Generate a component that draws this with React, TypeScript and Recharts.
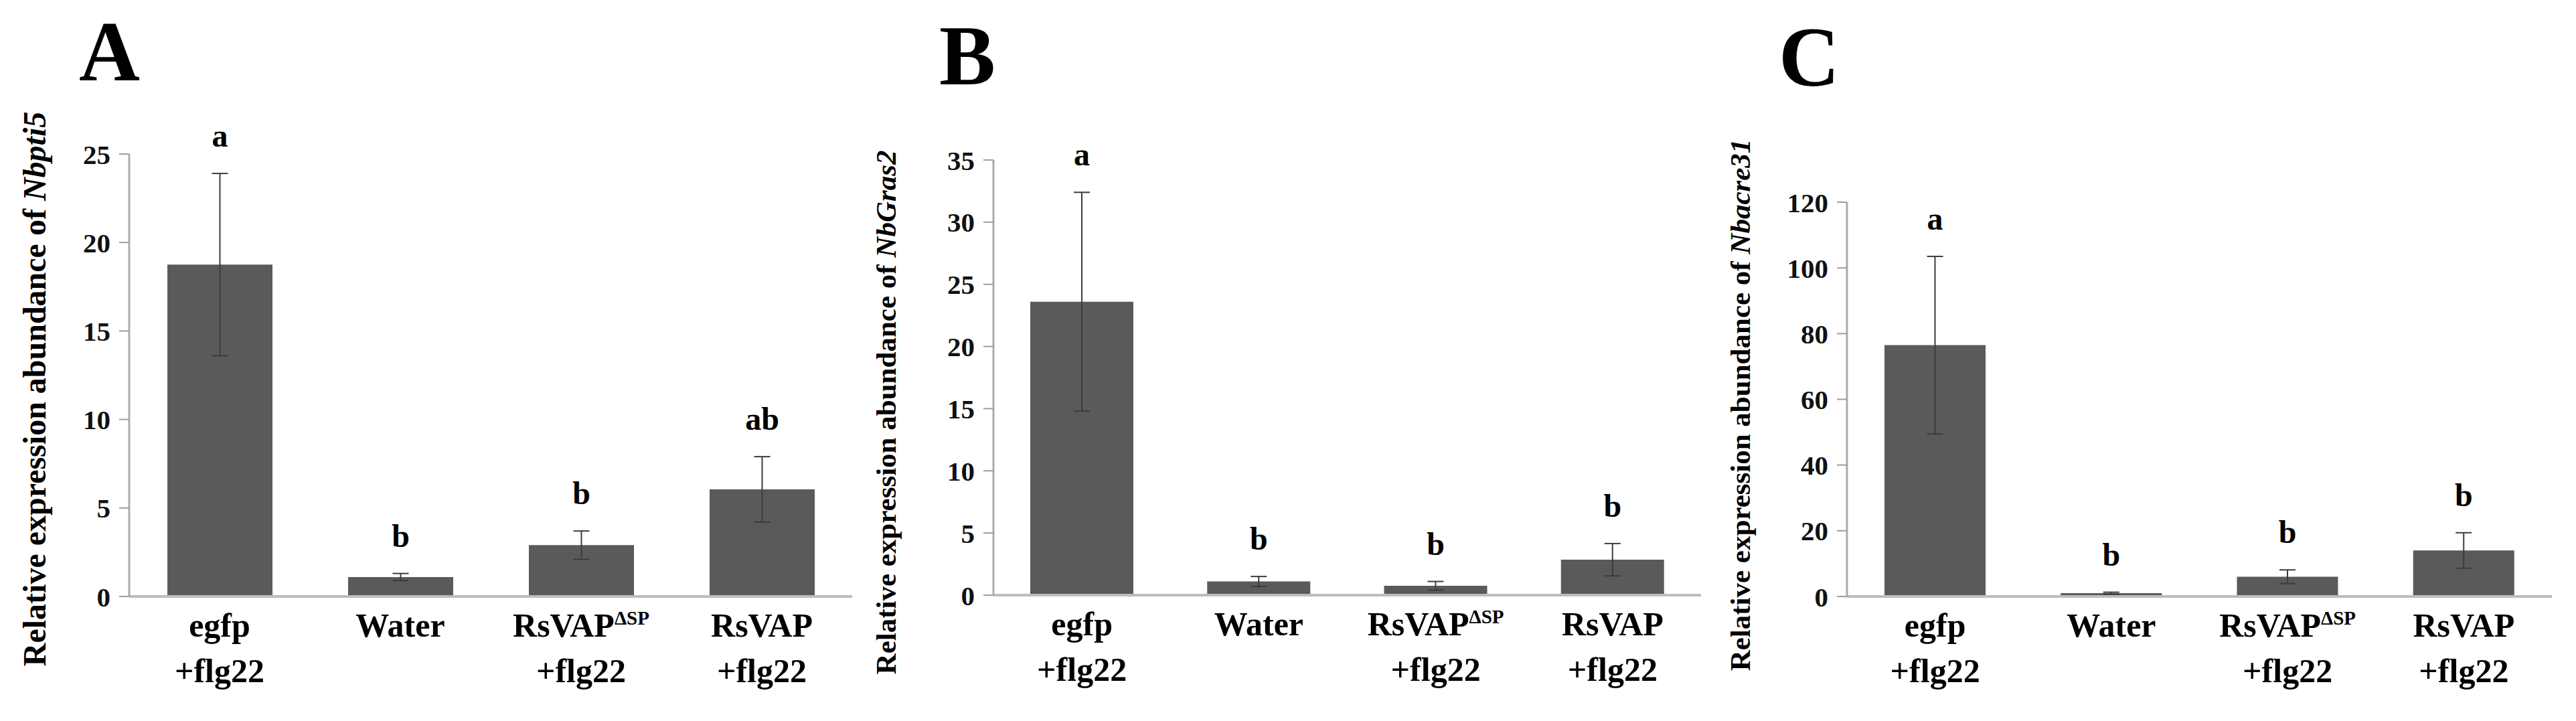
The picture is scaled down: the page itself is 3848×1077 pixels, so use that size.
import React from "react"
import { Bar, BarChart, ErrorBar, LabelList, XAxis, YAxis } from "recharts"

const FONT = "'Liberation Serif', 'Times New Roman', serif"

// treatments shared by all three panels ("+" splits the two label lines)
const treatments = ["egfp+flg22", "Water", "RsVAPΔSP+flg22", "RsVAP+flg22"]

// A: Nbpti5
const pti5Mean = [18.75, 1.1, 2.9, 6.05]
const pti5Sd = [5.15, 0.2, 0.8, 1.85]
const pti5Groups = ["a", "b", "b", "ab"]
const pti5Ticks = [0, 5, 10, 15, 20, 25]

// B: NbGras2
const gras2Mean = [23.6, 1.1, 0.75, 2.85]
const gras2Sd = [8.8, 0.4, 0.35, 1.3]
const gras2Groups = ["a", "b", "b", "b"]
const gras2Ticks = [0, 5, 10, 15, 20, 25, 30, 35]

// C: Nbacre31
const acre31Mean = [76.5, 1.0, 6.0, 14.0]
const acre31Sd = [27, 0.3, 2.1, 5.4]
const acre31Groups = ["a", "b", "b", "b"]
const acre31Ticks = [0, 20, 40, 60, 80, 100, 120]

const buildRows = (mean: number[], sd: number[], groups: string[]) =>
  treatments.map((name, i) => ({ name, mean: mean[i], sd: sd[i], group: groups[i] }))

const panels = [
  {
    letter: "A", gene: "Nbpti5", rows: buildRows(pti5Mean, pti5Sd, pti5Groups), ticks: pti5Ticks,
    left: 0, width: 1300, margin: { top: 230, right: 27, bottom: 36, left: 133 }, barSize: 157,
    letterX: 118, letterY: 120, titleX: 68, titleY: 581, titleSize: 48,
  },
  {
    letter: "B", gene: "NbGras2", rows: buildRows(gras2Mean, gras2Sd, gras2Groups), ticks: gras2Ticks,
    left: 1300, width: 1300, margin: { top: 239, right: 59, bottom: 38, left: 124 }, barSize: 154,
    letterX: 1403, letterY: 126, titleX: 1338, titleY: 616, titleSize: 43,
  },
  {
    letter: "C", gene: "Nbacre31", rows: buildRows(acre31Mean, acre31Sd, acre31Groups), ticks: acre31Ticks,
    left: 2600, width: 1248, margin: { top: 302, right: 36, bottom: 36, left: 99 }, barSize: 151,
    letterX: 2657, letterY: 128, titleX: 2614, titleY: 605, titleSize: 43,
  },
]

function TreatmentTick({ x, y, payload }: any) {
  const [head, tail] = String(payload.value).split("+")
  const hasSup = head.endsWith("ΔSP")
  const base = hasSup ? head.slice(0, -3) : head
  return (
    <g fontFamily={FONT} fontWeight="bold" fontSize={50} fill="#000">
      <text x={x} y={y + 60} textAnchor="middle">
        {base}
        {hasSup && (
          <tspan fontSize={29} dy={-18}>
            ΔSP
          </tspan>
        )}
      </text>
      {tail && (
        <text x={x} y={y + 128} textAnchor="middle">
          +{tail}
        </text>
      )}
    </g>
  )
}

// significance letter sitting above the error bar cap
const groupLabel = (rows: { mean: number; sd: number; group: string }[]) => (props: any) => {
  const box = props.viewBox && props.viewBox.width !== undefined ? props.viewBox : props
  const { x, y, width, height } = box
  const row = rows[props.index] ?? rows.find((r) => r.mean === props.value)
  if (!row) return null
  const perUnit = height / row.mean
  const capY = y - row.sd * perUnit
  return (
    <text
      x={x + width / 2}
      y={capY - 40}
      textAnchor="middle"
      fontFamily={FONT}
      fontWeight="bold"
      fontSize={48}
      fill="#000"
    >
      {row.group}
    </text>
  )
}

export default function App() {
  return (
    <div style={{ position: "absolute", left: 0, top: 0, width: 3848, height: 1077, background: "#fff" }}>
      {panels.map((p) => (
        <div key={p.letter} style={{ position: "absolute", left: p.left, top: 0 }}>
          <BarChart width={p.width} height={1077} data={p.rows} margin={p.margin}>
            <XAxis
              dataKey="name"
              height={150}
              tickSize={0}
              tickMargin={0}
              tickLine={false}
              axisLine={{ stroke: "#bdbdbd", strokeWidth: 4 }}
              tick={<TreatmentTick />}
              interval={0}
            />
            <YAxis
              width={60}
              domain={[p.ticks[0], p.ticks[p.ticks.length - 1]]}
              ticks={p.ticks}
              interval={0}
              tickSize={15}
              tickMargin={13}
              tickLine={{ stroke: "#9e9e9e", strokeWidth: 2 }}
              axisLine={{ stroke: "#ababab", strokeWidth: 3 }}
              tick={{ fontFamily: FONT, fontWeight: "bold", fontSize: 41, fill: "#111" }}
            />
            <Bar dataKey="mean" fill="#5a5a5a" barSize={p.barSize} isAnimationActive={false}>
              <ErrorBar dataKey="sd" direction="y" width={12} stroke="#3c3c3c" strokeWidth={2} />
              <LabelList dataKey="mean" content={groupLabel(p.rows)} />
            </Bar>
          </BarChart>
        </div>
      ))}
      <svg
        width={3848}
        height={1077}
        style={{ position: "absolute", left: 0, top: 0, pointerEvents: "none" }}
        fontFamily={FONT}
        fontWeight="bold"
      >
        {panels.map((p) => (
          <g key={p.letter}>
            <text x={p.letterX} y={p.letterY} fontSize={126} fill="#000">
              {p.letter}
            </text>
            <text
              transform={`translate(${p.titleX},${p.titleY}) rotate(-90)`}
              textAnchor="middle"
              fontSize={p.titleSize}
              fill="#000"
            >
              Relative expression abundance of <tspan fontStyle="italic">{p.gene}</tspan>
            </text>
          </g>
        ))}
      </svg>
    </div>
  )
}
